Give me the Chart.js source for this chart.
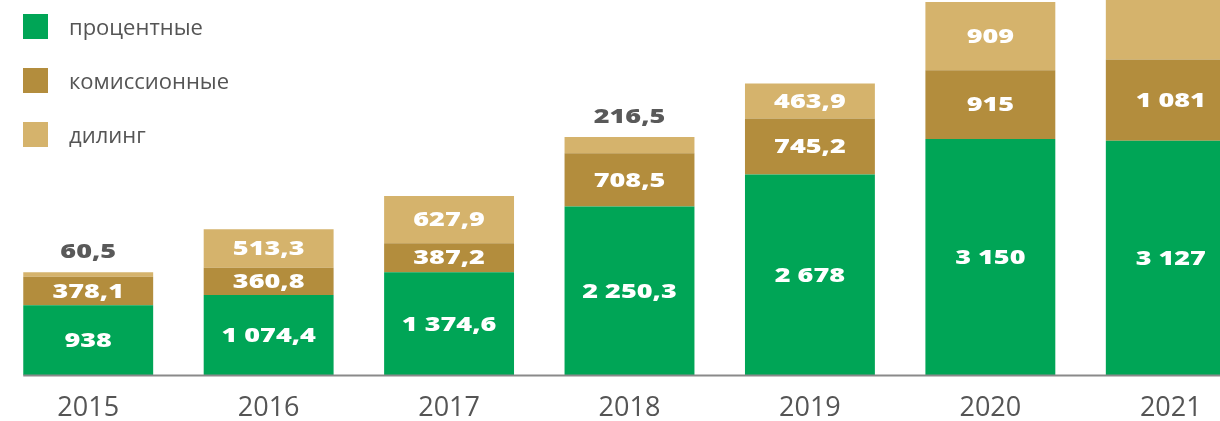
<!DOCTYPE html>
<html lang="ru">
<head>
<meta charset="utf-8">
<script src="https://cdn.jsdelivr.net/npm/chart.js@4/dist/chart.umd.min.js"></script>
<style>
  html, body { margin: 0; padding: 0; background: #fff; overflow: hidden; width: 1220px; height: 421px; }
  #wrap { position: absolute; left: -2px; top: 0; width: 1263px; height: 442px; }
  #legend { position: absolute; left: 23px; top: 14px; font-family: "Open Sans", sans-serif; font-size: 22px; color: #555; }
  .item { position: absolute; left: 0; height: 25px; white-space: nowrap; }
  .sw { position: absolute; left: 0; top: 0; width: 25px; height: 25px; }
  .lbl { position: absolute; left: 46px; top: 50%; transform: translateY(-54%); line-height: 1; }
</style>
</head>
<body>
<div id="wrap"><canvas id="c"></canvas></div>
<div id="legend"></div>
<script>
const categories = ['2015', '2016', '2017', '2018', '2019', '2020', '2021'];
const seriesNames = ['процентные', 'комиссионные', 'дилинг'];
const interestValues = [938, 1074.4, 1374.6, 2250.3, 2678, 3150, 3127];
const commissionValues = [378.1, 360.8, 387.2, 708.5, 745.2, 915, 1081];
const dealingValues = [60.5, 513.3, 627.9, 216.5, 463.9, 909, 1000];
const seriesColors = ['#00A556', '#B38D3D', '#D5B36C'];

// HTML legend
const legendEl = document.getElementById('legend');
seriesNames.forEach((name, i) => {
  const it = document.createElement('div');
  it.className = 'item';
  it.style.top = (i * 54) + 'px';
  it.innerHTML = '<span class="sw" style="background:' + seriesColors[i] + '"></span><span class="lbl">' + name + '</span>';
  legendEl.appendChild(it);
});

function fmt(v) {
  const parts = String(v).split('.');
  const intPart = parts[0].replace(/\B(?=(\d{3})+(?!\d))/g, ' ');
  return parts.length > 1 ? intPart + ',' + parts[1] : intPart;
}

const axisLine = {
  id: 'axisLine',
  afterDatasetsDraw(chart) {
    const ctx = chart.ctx, area = chart.chartArea;
    const bar0 = chart.getDatasetMeta(0).data[0];
    const x0 = bar0.x - bar0.width / 2;
    ctx.save();
    ctx.strokeStyle = '#8a8a8a';
    ctx.lineWidth = 2;
    ctx.beginPath();
    ctx.moveTo(x0, area.bottom);
    ctx.lineTo(area.right, area.bottom);
    ctx.stroke();
    ctx.restore();
  }
};

const valueLabels = {
  id: 'valueLabels',
  afterDatasetsDraw(chart) {
    const ctx = chart.ctx, area = chart.chartArea;
    ctx.save();
    ctx.font = '800 20px "Open Sans"';
    ctx.textAlign = 'center';
    ctx.textBaseline = 'middle';
    chart.data.datasets.forEach((ds, di) => {
      const meta = chart.getDatasetMeta(di);
      meta.data.forEach((bar, i) => {
        const v = ds.data[i];
        const top = bar.y, bottom = bar.base;
        if (top < area.top - 0.5) return;
        const h = bottom - top;
        let y, color;
        if (h < 22) { y = top - 21; color = '#595959'; }
        else { y = (top + bottom) / 2; color = '#ffffff'; }
        ctx.save();
        ctx.translate(bar.x, y);
        ctx.scale(1.35, 1);
        ctx.fillStyle = color;
        ctx.fillText(fmt(v), 0, 1);
        ctx.restore();
      });
    });
    ctx.restore();
  }
};

new Chart(document.getElementById('c'), {
  type: 'bar',
  data: {
    labels: categories,
    datasets: [
      { label: seriesNames[0], data: interestValues, backgroundColor: seriesColors[0] },
      { label: seriesNames[1], data: commissionValues, backgroundColor: seriesColors[1] },
      { label: seriesNames[2], data: dealingValues, backgroundColor: seriesColors[2] }
    ]
  },
  options: {
    responsive: true,
    maintainAspectRatio: false,
    animation: false,
    layout: { padding: 0 },
    datasets: { bar: { barPercentage: 0.72, categoryPercentage: 1.0, borderWidth: 0 } },
    plugins: { legend: { display: false }, tooltip: { enabled: false }, title: { display: false } },
    scales: {
      x: {
        stacked: true,
        offset: true,
        grid: { display: false, drawTicks: false },
        border: { display: false },
        ticks: { color: '#555', font: { family: 'Open Sans', size: 27 }, padding: 17, maxRotation: 0, autoSkip: false }
      },
      y: {
        stacked: true,
        display: false,
        min: 0,
        max: 5000
      }
    }
  },
  plugins: [axisLine, valueLabels]
});
</script>
</body>
</html>
